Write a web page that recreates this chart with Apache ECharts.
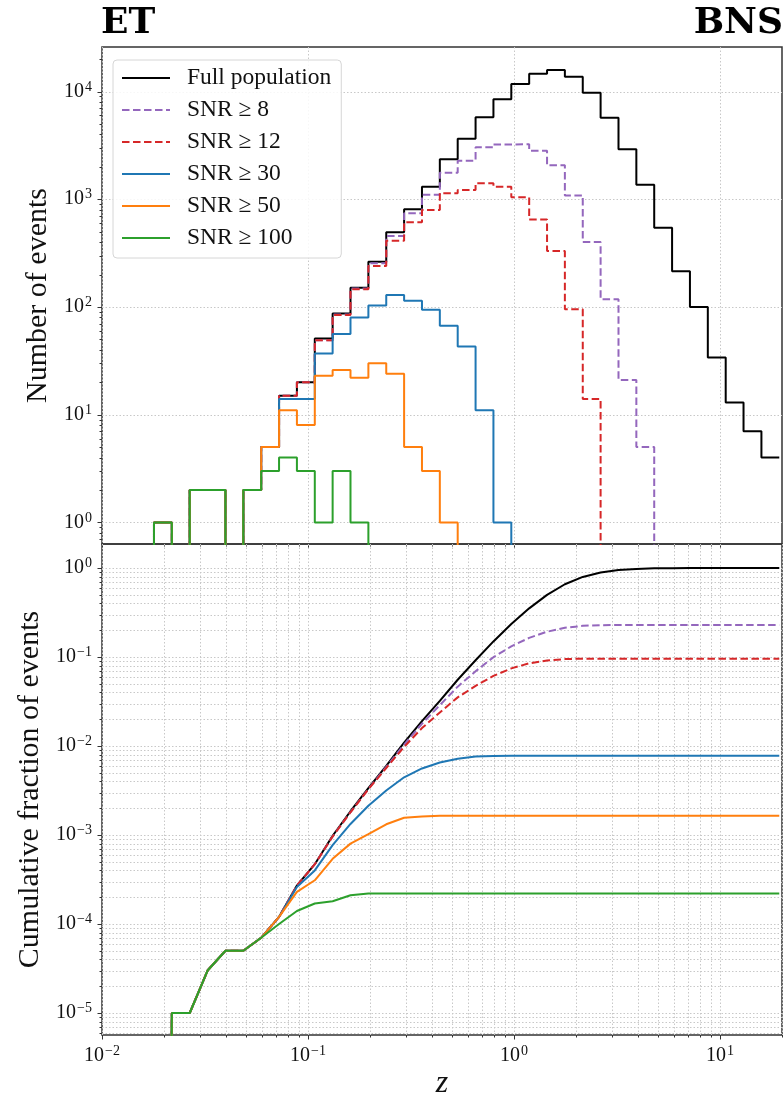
<!DOCTYPE html>
<html>
<head>
<meta charset="utf-8">
<title>ET BNS</title>
<script src="https://cdn.jsdelivr.net/npm/echarts@6/dist/echarts.min.js"></script>
<style>
  html, body { margin: 0; padding: 0; background: #fff; }
  #main { width: 784px; height: 1101px; }
</style>
</head>
<body>
<div id="main"></div>
<script>
// 数据: bin edges in z (log spaced) and counts per bin
const binEdges = [0.01788, 0.02183, 0.02666, 0.03255, 0.03974, 0.04853, 0.05925, 0.07236, 0.08835,
  0.1079, 0.1317, 0.1608, 0.1964, 0.2398, 0.2928, 0.3575, 0.4365, 0.5330, 0.6509, 0.7947, 0.9703,
  1.185, 1.447, 1.766, 2.157, 2.633, 3.216, 3.926, 4.794, 5.854, 7.147, 8.728, 10.66, 13.01, 15.89, 19.40]

const countsFull = [1, 0, 2, 2, 0, 2, 5, 15, 20, 51, 87, 151, 263, 493, 808, 1306, 2345, 3647, 5758,
  8468, 11771, 14650, 15800, 13710, 9750, 5710, 2905, 1364, 543, 215, 100, 34, 13, 7, 4]
const countsSnr8 = [1, 0, 2, 2, 0, 2, 5, 15, 20, 49, 85, 148, 254, 455, 740, 1100, 1762, 2277, 3034,
  3220, 3240, 2820, 2065, 1086, 401, 118, 21, 5, 0, 0, 0, 0, 0, 0, 0]
const countsSnr12 = [1, 0, 2, 2, 0, 2, 5, 15, 20, 49, 84, 146, 240, 412, 610, 794, 1135, 1217, 1406,
  1306, 1042, 650, 330, 95, 14, 0, 0, 0, 0, 0, 0, 0, 0, 0, 0]
const countsSnr30 = [1, 0, 2, 2, 0, 2, 5, 14, 14, 37, 56, 80, 103, 129, 114, 94, 67, 43, 11,
  1, 0, 0, 0, 0, 0, 0, 0, 0, 0, 0, 0, 0, 0, 0, 0]
const countsSnr50 = [1, 0, 2, 2, 0, 2, 5, 11, 8, 23, 26, 22, 30, 24, 5, 3, 1, 0, 0,
  0, 0, 0, 0, 0, 0, 0, 0, 0, 0, 0, 0, 0, 0, 0, 0]
const countsSnr100 = [1, 0, 2, 2, 0, 2, 3, 4, 3, 1, 3, 1, 0, 0, 0, 0, 0, 0, 0,
  0, 0, 0, 0, 0, 0, 0, 0, 0, 0, 0, 0, 0, 0, 0, 0]

const totalEvents = 100000
const seriesNames = ['Full population', 'SNR \u2265 8', 'SNR \u2265 12', 'SNR \u2265 30', 'SNR \u2265 50', 'SNR \u2265 100']
const allCounts = [countsFull, countsSnr8, countsSnr12, countsSnr30, countsSnr50, countsSnr100]

// tick positions (labels are 10^k)
const xMajorTicks = [0.01, 0.1, 1, 10]
const yTopMajorTicks = [1, 10, 100, 1000, 10000]
const yBottomMajorTicks = [1e-5, 1e-4, 1e-3, 1e-2, 1e-1, 1]

// 样式
const FONT = "'Liberation Serif', 'DejaVu Serif', serif"
const TITLE_FONT = "'DejaVu Serif', 'Liberation Serif', serif"
const colors = ['#000000', '#9467bd', '#d62728', '#1f77b4', '#ff7f0e', '#2ca02c']
const dashes = ['solid', [7.5, 3.5], [7.5, 3.5], 'solid', 'solid', 'solid']
const xRange = [0.01, 20]
const yTopRange = [0.63, 25900]
const yBottomRange = [5.66e-6, 1.86]

// 工具
const Util = {
  powLabel(v) {
    const e = Math.round(Math.log10(v))
    return '{b|10}{s|' + (e < 0 ? '\u2212' + (-e) : e) + '}'
  },
  logMinors(min, max) {
    const out = []
    for (let k = Math.floor(Math.log10(min)); k <= Math.floor(Math.log10(max)); k++) {
      for (let m = 2; m <= 9; m++) {
        const v = m * Math.pow(10, k)
        if (v >= min && v <= max) out.push(v)
      }
    }
    return out
  },
  // step outline like matplotlib histtype='step'; zero bins fall below the axis and get clipped
  stepPoints(counts, floor) {
    const pts = [[binEdges[0], floor]]
    counts.forEach((c, i) => {
      const v = c > 0 ? c : floor
      pts.push([binEdges[i], v], [binEdges[i + 1], v])
    })
    return pts
  },
  cumulative(counts, floor) {
    const pts = [[binEdges[0], floor]]
    let s = 0
    counts.forEach((c, i) => {
      s += c
      pts.push([binEdges[i + 1], s > 0 ? s / totalEvents : floor])
    })
    return pts
  }
}

const labelRich = {
  b: { fontFamily: FONT, fontSize: 20, color: '#111' },
  s: { fontFamily: FONT, fontSize: 14, color: '#111', padding: [0, 0, 9, 1] }
}

// grid lines and ticks, drawn with the axes' own scales
function decorSeries(idx, yRange, yMajor, minorGrid) {
  const xMinor = Util.logMinors(xRange[0], xRange[1])
  const yMinor = Util.logMinors(yRange[0], yRange[1])
  return {
    type: 'custom',
    xAxisIndex: idx,
    yAxisIndex: idx,
    silent: true,
    z: 1,
    data: [[1, 1]],
    renderItem(params, api) {
      const cs = params.coordSys
      const L = cs.x, R = cs.x + cs.width, T = cs.y, B = cs.y + cs.height
      const kids = []
      const gridStyle = { stroke: '#c8c8c8', lineWidth: 1, lineDash: [1.5, 2] }
      const tickStyle = { stroke: '#333', lineWidth: 1 }
      const line = (x1, y1, x2, y2, style) => kids.push({ type: 'line', shape: { x1, y1, x2, y2 }, style })
      const px = v => Math.round(api.coord([v, 1])[0]) + 0.5
      const py = v => Math.round(api.coord([1, v])[1]) + 0.5
      xMajorTicks.forEach(v => {
        const x = px(v)
        line(x, T, x, B, gridStyle)
        line(x, B, x, B + 4.5, tickStyle)
      })
      xMinor.forEach(v => {
        const x = px(v)
        if (minorGrid) line(x, T, x, B, gridStyle)
        line(x, B, x, B + 2.5, tickStyle)
      })
      yMajor.forEach(v => {
        const y = py(v)
        line(L, y, R, y, gridStyle)
        line(L - 4.5, y, L, y, tickStyle)
      })
      yMinor.forEach(v => {
        const y = py(v)
        if (minorGrid) line(L, y, R, y, gridStyle)
        line(L - 2.5, y, L, y, tickStyle)
      })
      return { type: 'group', children: kids }
    }
  }
}

function logAxis(idx, range, extra) {
  return Object.assign({
    type: 'log',
    logBase: 10,
    gridIndex: idx,
    min: range[0],
    max: range[1],
    axisLine: { show: false },
    axisTick: { show: false },
    splitLine: { show: false },
    minorTick: { show: false },
    minorSplitLine: { show: false }
  }, extra)
}

const series = []
series.push(decorSeries(0, yTopRange, yTopMajorTicks, false))
series.push(decorSeries(1, yBottomRange, yBottomMajorTicks, true))
allCounts.forEach((counts, i) => {
  const lineStyle = { color: colors[i], width: 2, type: dashes[i] }
  series.push({
    name: seriesNames[i], type: 'line', xAxisIndex: 0, yAxisIndex: 0,
    data: Util.stepPoints(counts, 1e-3), symbol: 'none', showSymbol: false,
    clip: true, lineStyle, itemStyle: { color: colors[i] }, z: 2 + i * 0.01
  })
  series.push({
    name: seriesNames[i], type: 'line', xAxisIndex: 1, yAxisIndex: 1,
    data: Util.cumulative(counts, 1e-30), symbol: 'none', showSymbol: false,
    clip: true, lineStyle, itemStyle: { color: colors[i] }, z: 2 + i * 0.01
  })
})

const chart = echarts.init(document.getElementById('main'), null, { renderer: 'canvas' })
chart.setOption({
  animation: false,
  backgroundColor: '#fff',
  title: [
    { text: 'ET', left: 101, top: 6, padding: 0,
      textStyle: { fontFamily: TITLE_FONT, fontSize: 36, fontWeight: 'bold', color: '#000' } },
    { text: 'BNS', right: 1, top: 6, padding: 0,
      textStyle: { fontFamily: TITLE_FONT, fontSize: 36, fontWeight: 'bold', color: '#000' } }
  ],
  legend: {
    data: seriesNames,
    orient: 'vertical',
    left: 113, top: 60,
    padding: [6, 10, 8, 8],
    itemWidth: 48, itemHeight: 14, itemGap: 8,
    itemStyle: { color: 'rgba(0,0,0,0)', opacity: 0, borderWidth: 0 },
    backgroundColor: 'rgba(255,255,255,0.85)',
    borderColor: '#d6d6d6', borderWidth: 1, borderRadius: 4,
    textStyle: { fontFamily: FONT, fontSize: 23.5, color: '#111', lineHeight: 22, padding: [0, 0, 0, 12] },
    selectedMode: false
  },
  grid: [
    { left: 102, top: 47, width: 680, height: 497, show: true, borderColor: '#333', borderWidth: 1.5, backgroundColor: 'transparent' },
    { left: 102, top: 544, width: 680, height: 497, show: true, borderColor: '#333', borderWidth: 1.5, backgroundColor: 'transparent' }
  ],
  xAxis: [
    logAxis(0, xRange, { axisLabel: { show: false } }),
    logAxis(1, xRange, {
      name: 'z', nameLocation: 'middle', nameGap: 33,
      nameTextStyle: { fontFamily: FONT, fontSize: 32, fontStyle: 'italic', color: '#111' },
      axisLabel: { formatter: Util.powLabel, rich: labelRich, margin: 9, showMinLabel: true, showMaxLabel: false }
    })
  ],
  yAxis: [
    logAxis(0, yTopRange, {
      name: 'Number of events', nameLocation: 'middle', nameGap: 46, nameRotate: 90,
      nameTextStyle: { fontFamily: FONT, fontSize: 30, color: '#111' },
      axisLabel: { formatter: Util.powLabel, rich: labelRich, margin: 10, showMinLabel: false, showMaxLabel: false }
    }),
    logAxis(1, yBottomRange, {
      name: 'Cumulative fraction of events', nameLocation: 'middle', nameGap: 57, nameRotate: 90,
      nameTextStyle: { fontFamily: FONT, fontSize: 30, color: '#111' },
      axisLabel: { formatter: Util.powLabel, rich: labelRich, margin: 10, showMinLabel: false, showMaxLabel: false }
    })
  ],
  series
})
</script>
</body>
</html>
